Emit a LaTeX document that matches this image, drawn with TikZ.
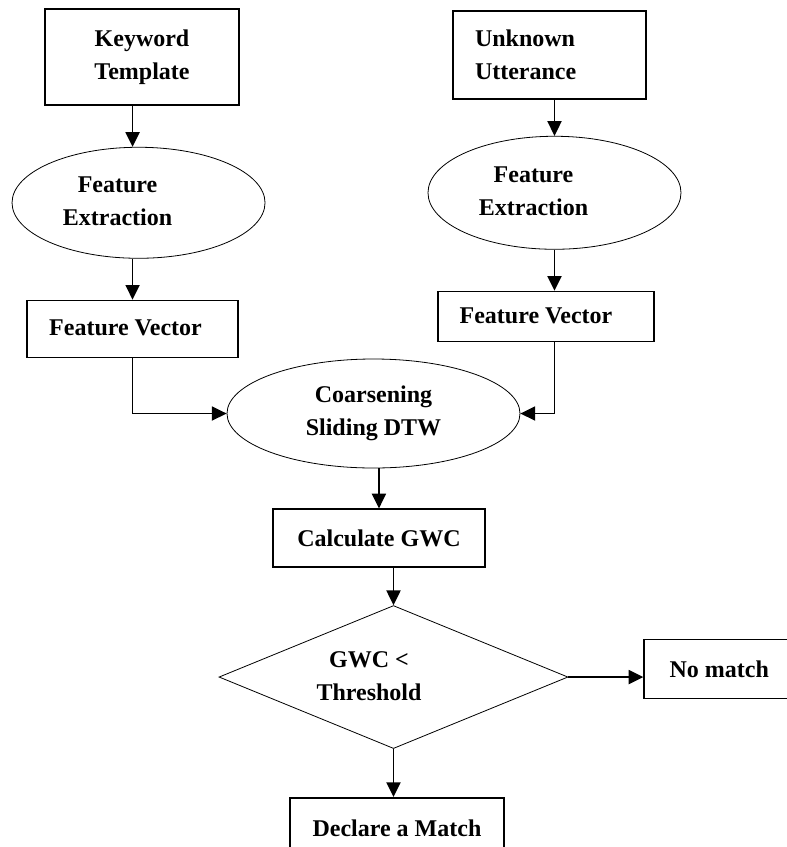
\documentclass[tikz,border=0pt]{standalone}
\usepackage{fontspec}
\setmainfont{Liberation Serif}
\usepackage{tikz}
\usetikzlibrary{arrows.meta, positioning, shapes.geometric}
\newcommand{\stk}[2][0pt]{\begin{tabular}{@{}c@{}}#2\end{tabular}\hspace*{#1}}
\tikzset{
  box/.style={rectangle, draw=black, line width=1.3pt, fill=white,
              inner sep=3pt, align=center,
              font=\fontsize{18pt}{24.75pt}\selectfont\bfseries},
  oval/.style={ellipse, draw=black, line width=0.6pt, fill=white,
               inner sep=2pt, align=center,
               font=\fontsize{18pt}{24.75pt}\selectfont\bfseries},
  decision/.style={diamond, aspect=2.4, draw=black, line width=0.6pt,
                   fill=white, inner sep=2pt, align=center,
                   font=\fontsize{18pt}{24.75pt}\selectfont\bfseries},
  arr/.style={-{Triangle[length=11pt, width=10.5pt]}, line width=1.4pt},
}
\begin{document}
\begin{tikzpicture}[x=0.75pt, y=-0.75pt]
  \useasboundingbox (0,0) rectangle (787,847);

  % Keyword side
  \node[box, minimum width=145.5pt, minimum height=72pt] (kw) at (142,57) {Keyword\\Template};
  \node[oval, minimum width=189.75pt, minimum height=83.25pt,
        below=30.75pt of kw, xshift=-2.6pt] (fe1) {\stk[31.5pt]{Feature\\Extraction}};
  \node[box, minimum width=158.25pt, minimum height=42.75pt,
        below=30.75pt of fe1, xshift=-4.5pt] (fv1) {\stk[10.5pt]{Feature Vector}};

  % Utterance side
  \node[box, minimum width=144.75pt, minimum height=66pt, text width=111.75pt,
        align=left] (uu) at (549.5,55) {Unknown\\Utterance};
  \node[oval, minimum width=189.75pt, minimum height=84.75pt,
        below=27pt of uu, xshift=3.75pt] (fe2) {\stk[31.5pt]{Feature\\Extraction}};
  \node[box, minimum width=162pt, minimum height=37.5pt,
        below=30.75pt of fe2, xshift=-6.4pt] (fv2) {\stk[15pt]{Feature Vector}};

  % Matching
  \node[oval, minimum width=219.75pt, minimum height=81.75pt] (dtw) at (373.5,413.5) {Coarsening\\Sliding DTW};
  \node[box, minimum width=159pt, minimum height=43.5pt,
        below=30pt of dtw, xshift=4.1pt] (gwc) {Calculate GWC};
  \node[decision, minimum width=261.75pt, minimum height=107.25pt,
        below=27.75pt of gwc, xshift=10.9pt] (th) {\stk[36.75pt]{GWC <\\Threshold}};
  \node[box, minimum width=112.5pt, minimum height=44.25pt,
        right=56.25pt of th, yshift=6pt] (nm) {No match};
  \node[box, minimum width=160.5pt, minimum height=45pt,
        below=36pt of th, xshift=2.6pt] (dm) {Declare a Match};

  \draw[arr] (kw.south -| fv1) -- (fe1.north -| fv1);
  \draw[arr] (fe1.south -| fv1) -- (fv1.north);
  \draw[arr] (fv1.south) |- (dtw.west);

  \draw[arr] (uu.south -| fe2) -- (fe2.north);
  \draw[arr] (fe2.south) -- (fv2.north -| fe2);
  \draw[arr] (fv2.south -| fe2) |- (dtw.east);

  \draw[arr] (dtw.south -| gwc) -- (gwc.north);
  \draw[arr] (gwc.south -| th) -- (th.north);
  \draw[arr] (th.east) -- (th.east -| nm.west);
  \draw[arr] (th.south) -- (dm.north -| th);
\end{tikzpicture}
\end{document}
